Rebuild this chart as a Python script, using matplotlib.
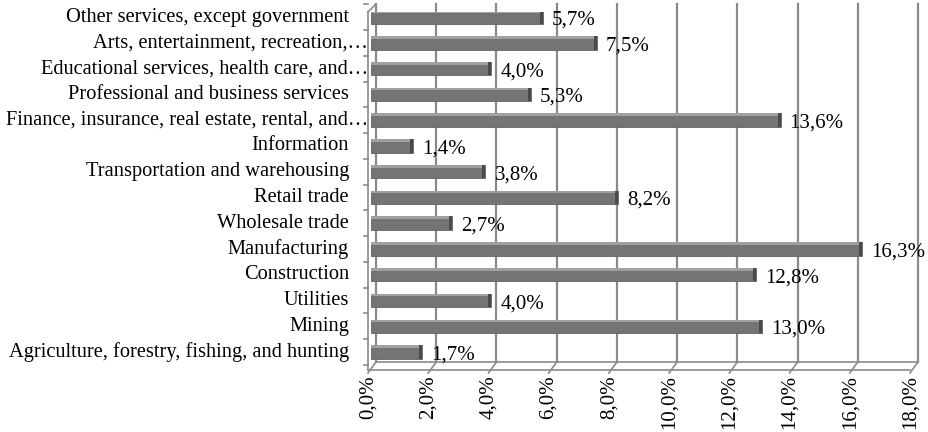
import matplotlib
matplotlib.use("Agg")
import matplotlib.pyplot as plt
import matplotlib.transforms as mtransforms
import numpy as np

plt.rcParams['font.family'] = ['Liberation Serif', 'DejaVu Serif']

categories = ["Agriculture, forestry, fishing, and hunting", "Mining", "Utilities",
              "Construction", "Manufacturing", "Wholesale trade", "Retail trade",
              "Transportation and warehousing", "Information",
              "Finance, insurance, real estate, rental, and\u2026",
              "Professional and business services",
              "Educational services, health care, and\u2026",
              "Arts, entertainment, recreation,\u2026",
              "Other services, except government"]
values = [1.7, 13.0, 4.0, 12.8, 16.3, 2.7, 8.2, 3.8, 1.4, 13.6, 5.3, 4.0, 7.5, 5.7]
xticks = [0, 2, 4, 6, 8, 10, 12, 14, 16, 18]

W, H = 929, 432
fig = plt.figure(figsize=(W / 100, H / 100), dpi=100)
# axes in pixel coordinates (front plane)
left, right, top, bottom = 368, 910, 12, 370
ax = fig.add_axes([left / W, 1 - bottom / H, (right - left) / W, (bottom - top) / H])
ax.set_xlim(0, 18)
ymin, ymax = -0.7, 13.2
ax.set_ylim(ymin, ymax)
ax.axis('off')

fs = 15
fs_cat = 14.7
grid_c = '#8a8a8a'
dx, dy = 8, 8  # depth of the 3d box in pixels
back = mtransforms.offset_copy(ax.transData, fig=fig, x=dx, y=dy, units='dots')

# back wall gridlines
for t in xticks:
    ax.plot([t, t], [ymin, ymax], color=grid_c, lw=1.6, transform=back, clip_on=False, zorder=1)
# floor: back line, front line, slanted ticks
ax.plot([0, 18], [ymin, ymin], color=grid_c, lw=1.2, transform=back, clip_on=False, zorder=1)
ax.plot([0, 18], [ymin, ymin], color=grid_c, lw=1.2, clip_on=False, zorder=1)
for t in xticks:
    x0, y0 = ax.transData.transform((t, ymin))
    pts = ax.transData.inverted().transform([(x0, y0 - 3), (x0 + dx, y0 + dy)])
    ax.plot(pts[:, 0], pts[:, 1], color=grid_c, lw=1.2, clip_on=False, zorder=1)
# left wall
ax.plot([0, 0], [ymin, ymax], color=grid_c, lw=1.2, clip_on=False, zorder=1)
x0, y0 = ax.transData.transform((0, ymax))
pts = ax.transData.inverted().transform([(x0, y0), (x0 + dx, y0 + dy)])
ax.plot(pts[:, 0], pts[:, 1], color=grid_c, lw=1.2, clip_on=False, zorder=1)
for k in range(len(categories) + 1):
    yb = max(k - 0.5, ymin)
    x0, y0 = ax.transData.transform((0, yb))
    pts = ax.transData.inverted().transform([(x0 - 4, y0), (x0, y0)])
    ax.plot(pts[:, 0], pts[:, 1], color=grid_c, lw=1.2, clip_on=False, zorder=1)

# bars with a little 3d look, set at mid depth
mid = mtransforms.offset_copy(ax.transData, fig=fig, x=3, y=0, units='dots')
y = np.arange(len(categories))
bh = 0.52
ax.barh(y, values, height=bh, color='#747474', edgecolor='#626262', lw=0.6,
        zorder=3, transform=mid)
ax.barh(y + bh / 2 - 0.05, values, height=0.1, color='#a0a0a0', lw=0, zorder=4,
        transform=mid)
cap = 0.1
ax.barh(y, [cap] * len(values), left=np.array(values) - cap, height=bh,
        color='#4a4a4a', lw=0, zorder=4, transform=mid)

for yi, v in zip(y, values):
    ax.text(v + 0.4, yi - 0.12, ("%.1f%%" % v).replace('.', ','), fontsize=fs,
            ha='left', va='center', zorder=5)

# category labels
for yi, lab in zip(y, categories):
    off = 0 if lab.endswith('\u2026') else -19
    tr = mtransforms.offset_copy(ax.transData, fig=fig, x=off, y=0, units='dots')
    ax.text(0, yi, lab, fontsize=fs_cat, ha='right', va='center', transform=tr)

# x tick labels
for t in xticks:
    tr = mtransforms.offset_copy(ax.transData, fig=fig, x=0, y=-5, units='dots')
    ax.text(t, ymin, ("%.1f%%" % t).replace('.', ','), fontsize=fs, rotation=90,
            ha='center', va='top', transform=tr)

fig.savefig("out.png", dpi=100, facecolor='white')
